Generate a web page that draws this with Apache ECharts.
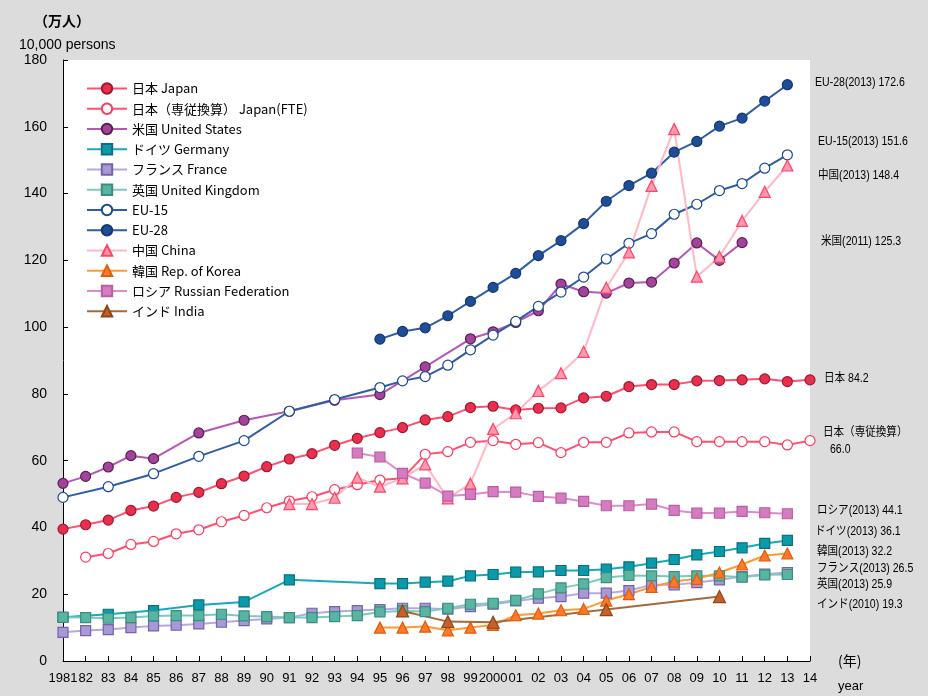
<!DOCTYPE html>
<html>
<head>
<meta charset="utf-8">
<script src="https://cdn.jsdelivr.net/npm/echarts@6/dist/echarts.min.js"></script>
<style>
  html, body { margin: 0; padding: 0; background: #dcdcdc; }
  #chart { width: 928px; height: 696px; }
</style>
</head>
<body>
<div id="chart"></div>
<script>
  // 年 (1981 - 2014)
  var years = ['1981', '82', '83', '84', '85', '86', '87', '88', '89', '90',
    '91', '92', '93', '94', '95', '96', '97', '98', '99', '2000',
    '01', '02', '03', '04', '05', '06', '07', '08', '09', '10',
    '11', '12', '13', '14']

  var japan = [39.5, 40.8, 42.2, 45.1, 46.4, 49.0, 50.5, 53.1, 55.4, 58.2,
    60.5, 62.1, 64.6, 66.7, 68.4, 69.9, 72.2, 73.2, 75.9, 76.3,
    75.2, 75.7, 75.8, 78.8, 79.3, 82.2, 82.8, 82.8, 83.9, 84.0,
    84.2, 84.5, 83.7, 84.2]
  var japanFte = [null, 31.1, 32.2, 34.9, 35.8, 38.1, 39.3, 41.7, 43.6, 45.9,
    47.9, 49.2, 51.3, 52.8, 54.2, 54.7, 61.9, 62.7, 65.5, 66.0,
    64.9, 65.4, 62.4, 65.5, 65.5, 68.3, 68.6, 68.6, 65.7, 65.7,
    65.7, 65.7, 64.7, 66.0]
  var usa = [53.2, 55.3, 58.1, 61.5, 60.6, null, 68.3, null, 72.1, null,
    74.8, null, 78.1, null, 79.8, null, 88.1, null, 96.5, 98.6,
    101.4, 104.9, 112.9, 110.6, 110.2, 113.2, 113.5, 119.2, 125.2, 120.0,
    125.3, null, null, null]
  var germany = [13.1, null, 14.0, null, 15.1, null, 16.8, null, 17.7, null,
    24.3, null, null, null, 23.2, 23.2, 23.6, 23.9, 25.5, 25.9,
    26.6, 26.7, 27.1, 27.1, 27.5, 28.2, 29.3, 30.4, 31.8, 32.8,
    33.9, 35.2, 36.1, null]
  var france = [8.6, 9.1, 9.4, 10.0, 10.5, 10.7, 11.1, 11.6, 12.1, 12.6,
    13.0, 14.3, 14.8, 15.1, 15.4, 15.8, 15.8, 15.5, 16.3, 17.0,
    18.0, 18.8, 19.3, 20.3, 20.3, 21.1, 22.8, 22.8, 23.5, 24.3,
    25.3, 26.0, 26.5, null]
  var uk = [13.1, 13.0, 12.8, 13.0, 13.5, 13.6, 13.6, 14.0, 13.5, 13.3,
    13.0, 13.0, 13.3, 13.6, 14.7, 15.0, 14.8, 15.8, 17.0, 17.3,
    18.2, 20.1, 21.9, 23.1, 25.0, 25.6, 25.5, 25.3, 25.5, 25.5,
    25.1, 25.8, 25.9, null]
  var eu15 = [49.0, null, 52.2, null, 56.1, null, 61.3, null, 66.0, null,
    74.8, null, 78.3, null, 81.9, 83.9, 85.2, 88.6, 93.2, 97.6,
    101.7, 106.2, 110.5, 115.0, 120.4, 125.1, 128.0, 133.8, 136.8, 140.9,
    143.0, 147.6, 151.6, null]
  var eu28 = [null, null, null, null, null, null, null, null, null, null,
    null, null, null, null, 96.4, 98.7, 99.8, 103.4, 107.7, 111.9,
    116.1, 121.4, 125.9, 131.0, 137.7, 142.4, 146.1, 152.4, 155.6, 160.2,
    162.6, 167.7, 172.6, null]
  var china = [null, null, null, null, null, null, null, null, null, null,
    47.0, 47.0, 48.9, 54.9, 52.2, 54.7, 58.9, 48.7, 53.1, 69.5,
    74.2, 80.9, 86.2, 92.6, 111.8, 122.4, 142.3, 159.3, 115.1, 121.1,
    131.8, 140.5, 148.4, null]
  var korea = [null, null, null, null, null, null, null, null, null, null,
    null, null, null, null, 10.0, 10.0, 10.3, 9.2, 10.0, 10.8,
    13.7, 14.2, 15.2, 15.6, 18.1, 20.0, 22.2, 23.8, 24.6, 26.5,
    28.9, 31.6, 32.2, null]
  var russia = [null, null, null, null, null, null, null, null, null, null,
    null, null, null, 62.3, 61.1, 56.2, 53.3, 49.4, 49.9, 50.7,
    50.6, 49.3, 48.8, 47.8, 46.5, 46.5, 47.0, 45.1, 44.3, 44.3,
    44.8, 44.4, 44.1, null]
  var india = [null, null, null, null, null, null, null, null, null, null,
    null, null, null, null, null, 15.0, null, 11.8, null, 11.6,
    null, null, null, null, 15.4, null, null, null, null, 19.3,
    null, null, null, null]

  // 右側の注記
  var endNotes = [
    { text: 'EU-28(2013) 172.6', x: 815, y: 82 },
    { text: 'EU-15(2013) 151.6', x: 818, y: 141 },
    { text: '中国(2013) 148.4', x: 818, y: 175 },
    { text: '米国(2011) 125.3', x: 821, y: 241 },
    { text: '日本 84.2', x: 824, y: 378 },
    { text: '日本（専従換算）', x: 823, y: 432 },
    { text: '66.0', x: 830, y: 449 },
    { text: 'ロシア(2013) 44.1', x: 817, y: 510 },
    { text: 'ドイツ(2013) 36.1', x: 815, y: 531 },
    { text: '韓国(2013) 32.2', x: 817, y: 551 },
    { text: 'フランス(2013) 26.5', x: 817, y: 568 },
    { text: '英国(2013) 25.9', x: 817, y: 584 },
    { text: 'インド(2010) 19.3', x: 817, y: 604 }
  ]

  var numFont = "'Liberation Sans Narrow', 'Liberation Sans', 'Noto Sans CJK JP', sans-serif"
  var jpFont = "'Noto Sans CJK JP', 'Liberation Sans', sans-serif"

  function mkSeries(name, data, symbol, size, line, fill, border) {
    return {
      name: name,
      type: 'line',
      data: data,
      connectNulls: true,
      symbol: symbol,
      symbolSize: size,
      showAllSymbol: true,
      lineStyle: { color: line, width: 2 },
      itemStyle: { color: fill, borderColor: border, borderWidth: 1.2 },
      emphasis: { disabled: true },
      animation: false
    }
  }

  var chart = echarts.init(document.getElementById('chart'))
  chart.setOption({
    backgroundColor: '#dcdcdc',
    textStyle: { fontFamily: numFont },
    grid: {
      left: 63,
      right: 118,
      top: 60,
      bottom: 35,
      show: true,
      backgroundColor: '#ffffff',
      borderWidth: 0
    },
    legend: {
      orient: 'vertical',
      left: 81,
      top: 77,
      itemWidth: 40,
      itemHeight: 13,
      itemGap: 7.25,
      textStyle: { fontFamily: jpFont, fontSize: 13, color: '#000' },
      data: ['日本 Japan', '日本（専従換算） Japan(FTE)', '米国 United States', 'ドイツ Germany',
        'フランス France', '英国 United Kingdom', 'EU-15', 'EU-28', '中国 China',
        '韓国 Rep. of Korea', 'ロシア Russian Federation', 'インド India']
    },
    xAxis: {
      type: 'category',
      data: years,
      boundaryGap: false,
      axisLine: { lineStyle: { color: '#000', width: 1 } },
      axisTick: { inside: true, length: 5, lineStyle: { color: '#000' } },
      axisLabel: { interval: 0, color: '#000', fontSize: 13, margin: 11, fontFamily: numFont },
      splitLine: { show: false }
    },
    yAxis: {
      type: 'value',
      min: 0,
      max: 180,
      interval: 20,
      axisLine: { show: true, lineStyle: { color: '#000', width: 1 } },
      axisTick: { show: true, inside: true, length: 5, lineStyle: { color: '#000' } },
      axisLabel: { color: '#000', fontSize: 14, margin: 16, fontFamily: numFont },
      splitLine: { show: false }
    },
    graphic: [
      { type: 'text', left: 34, top: 14, style: { text: '（万人）', font: 'bold 14px ' + jpFont, fill: '#000' } },
      { type: 'text', left: 19, top: 38, style: { text: '10,000 persons', font: '14px ' + numFont, fill: '#000' } },
      { type: 'text', left: 838, top: 654, style: { text: '(年)', font: '14px ' + jpFont, fill: '#000' } },
      { type: 'text', left: 838, top: 680, style: { text: 'year', font: '13px ' + numFont, fill: '#000' } }
    ].concat(endNotes.map(function (n) {
      return {
        type: 'text',
        x: n.x,
        y: n.y - 5,
        scaleX: 0.88,
        style: { text: n.text, font: '12px ' + numFont, fill: '#000' }
      }
    })),
    series: [
      mkSeries('日本 Japan', japan, 'circle', 10, '#ff5070', '#e8304e', '#a01830'),
      mkSeries('日本（専従換算） Japan(FTE)', japanFte, 'circle', 10, '#ff5070', '#ffffff', '#ff3a5e'),
      mkSeries('米国 United States', usa, 'circle', 10, '#b458b8', '#a2449c', '#5c1e52'),
      mkSeries('ドイツ Germany', germany, 'rect', 10, '#16aab8', '#0a9aaa', '#08707e'),
      mkSeries('フランス France', france, 'rect', 10, '#b8a8e0', '#a898d4', '#7462ac'),
      mkSeries('英国 United Kingdom', uk, 'rect', 10, '#78ccbc', '#5ab4a2', '#3a8e7e'),
      mkSeries('EU-15', eu15, 'circle', 10, '#2f5ca8', '#ffffff', '#1a4a90'),
      mkSeries('EU-28', eu28, 'circle', 10, '#2f5ca8', '#1f4e96', '#123872'),
      mkSeries('中国 China', china, 'triangle', 11, '#ffb8c4', '#ff9aae', '#ff4468'),
      mkSeries('韓国 Rep. of Korea', korea, 'triangle', 11, '#ff9a30', '#ff7a28', '#e05a10'),
      mkSeries('ロシア Russian Federation', russia, 'rect', 10, '#e08ccc', '#d47cc0', '#bc5ca4'),
      mkSeries('インド India', india, 'triangle', 12, '#a8683a', '#c85e28', '#8a4818')
    ]
  })
</script>
</body>
</html>
